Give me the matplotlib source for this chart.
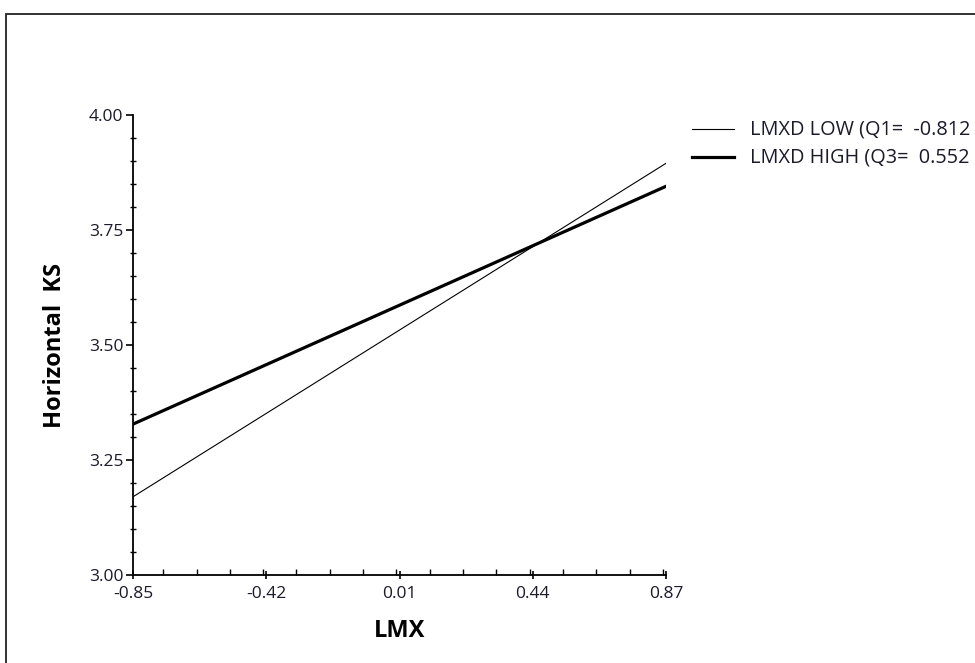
import matplotlib
matplotlib.use("Agg")
import matplotlib.pyplot as plt
from matplotlib.lines import Line2D
from matplotlib.patches import Rectangle
from matplotlib.ticker import MultipleLocator

plt.rcParams['font.family'] = ['Open Sans', 'DejaVu Sans']

x_ticks = [-0.85, -0.42, 0.01, 0.44, 0.87]
x_ends = [-0.85, 0.87]
low_vals = [3.17, 3.895]
high_vals = [3.328, 3.845]
series_labels = ["LMXD LOW (Q1=  -0.812", "LMXD HIGH (Q3=  0.552"]
y_ticks = [3.00, 3.25, 3.50, 3.75, 4.00]

fig = plt.figure(figsize=(9.75, 6.63), dpi=100)
ax = fig.add_axes([133/975, 1-575/663, (666-133)/975, (575-115)/663])

ax.plot(x_ends, low_vals, color='black', lw=0.8)
ax.plot(x_ends, high_vals, color='black', lw=2.3)

ax.set_xlim(-0.85, 0.87)
ax.set_ylim(3.0, 4.0)
ax.set_xticks(x_ticks)
ax.set_xticklabels([f"{v:.2f}" for v in x_ticks])
ax.set_yticks(y_ticks)
ax.set_yticklabels([f"{v:.2f}" for v in y_ticks])
ax.xaxis.set_minor_locator(MultipleLocator(0.1075))
ax.yaxis.set_minor_locator(MultipleLocator(0.05))
for s in ['top', 'right']:
    ax.spines[s].set_visible(False)
for s in ['left', 'bottom']:
    ax.spines[s].set_linewidth(1.3)
ax.tick_params(axis='y', which='major', direction='out', length=5, width=1.2, labelsize=12.5, pad=2, labelcolor='#1a1a2a')
ax.tick_params(axis='y', which='minor', direction='inout', length=5, width=1.0)
ax.tick_params(axis='x', which='major', direction='inout', length=6, width=1.2, labelsize=12.5, pad=5, labelcolor='#1a1a2a')
ax.tick_params(axis='x', which='minor', direction='in', length=4, width=1.0)

ax.set_xlabel("LMX", fontsize=17, fontweight='bold', va='center')
ax.xaxis.set_label_coords(0.5, (575-631)/460)
ax.set_ylabel("Horizontal  KS", fontsize=17, fontweight='bold', va='center')
ax.yaxis.set_label_coords((55-133)/533, (575-346)/460)

# legend drawn in figure coordinates
leg_y = [1-129/663, 1-157/663]
widths = [0.8, 2.3]
for yy, w, lab in zip(leg_y, widths, series_labels):
    fig.add_artist(Line2D([692/975, 734/975], [yy, yy], color='black', lw=w, transform=fig.transFigure))
    fig.text(750/975, yy, lab, fontsize=14.3, va='center', ha='left', color='#1a1a2a')

# outer frame
fig.add_artist(Rectangle((6/975, -0.1), 1.2, 1.1 - 14/663, transform=fig.transFigure,
                         fill=False, edgecolor='#222222', lw=1.3, clip_on=False))

fig.savefig("out.png", dpi=100)
